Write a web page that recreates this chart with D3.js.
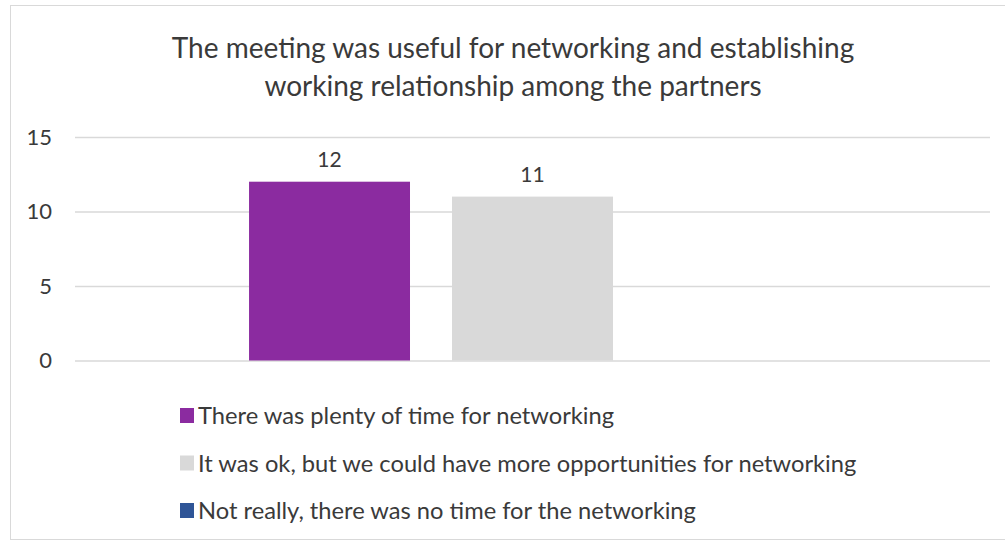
<!DOCTYPE html>
<html>
<head>
<meta charset="utf-8">
<script src="https://cdn.jsdelivr.net/npm/d3@7"></script>
<style>
  html, body { margin: 0; padding: 0; background: #fff; }
  svg { display: block; }
  text { font-family: Lato, "Open Sans", sans-serif; fill: #3a3a3a; }
</style>
</head>
<body>
<svg id="chart" width="1005" height="544"></svg>
<script>
// Survey responses for a single question, one bar per answer
const titleLines = [
  "The meeting was useful for networking and establishing",
  "working relationship among the partners"
];
const categories = [""];
const seriesNames = [
  "There was plenty of time for networking",
  "It was ok, but we could have more opportunities for networking",
  "Not really, there was no time for the networking"
];
const seriesValues = [12, 11, 0];
const seriesColors = ["#8b2ba0", "#d9d9d9", "#2f5597"];
const yTicks = [0, 5, 10, 15];

const svg = d3.select("#chart");
const W = 1005, H = 544;

// chart frame
svg.append("rect")
  .attr("x", 10.5).attr("y", 5.5)
  .attr("width", W).attr("height", 534)
  .attr("fill", "#fff").attr("stroke", "#d9d9d9").attr("stroke-width", 1);

const plot = { left: 75, right: 990, top: 137, bottom: 360.5 };

const y = d3.scaleLinear().domain([0, 15]).range([plot.bottom, plot.top]);
const x0 = d3.scaleBand().domain(categories)
  .range([plot.left, plot.right]).paddingOuter(0.307).paddingInner(0);
const x1 = d3.scaleBand().domain(seriesNames)
  .range([0, x0.bandwidth()]).paddingInner(0.207).paddingOuter(0);

// title
svg.append("g").selectAll("text").data(titleLines).join("text")
  .attr("x", 513)
  .attr("y", (d, i) => 58 + i * 38)
  .attr("text-anchor", "middle")
  .attr("font-size", 28)
  .text(d => d);

// gridlines + y tick labels
const yAxis = d3.axisLeft(y).tickValues(yTicks)
  .tickSize(-(plot.right - plot.left)).tickPadding(23);
const gy = svg.append("g")
  .attr("transform", `translate(${plot.left},0)`)
  .call(yAxis);
gy.select(".domain").remove();
gy.selectAll(".tick line").attr("stroke", "#d9d9d9").attr("stroke-width", 1.3);
gy.selectAll(".tick text")
  .attr("font-size", 22)
  .attr("font-family", "Lato, sans-serif")
  .attr("fill", "#3a3a3a");

// bars
const rows = seriesNames.map((s, i) => ({ name: s, value: seriesValues[i], color: seriesColors[i] }));
const grp = svg.append("g").selectAll("g").data(categories).join("g")
  .attr("transform", d => `translate(${x0(d)},0)`);

grp.selectAll("rect").data(rows).join("rect")
  .attr("x", d => x1(d.name))
  .attr("width", x1.bandwidth())
  .attr("y", d => y(d.value))
  .attr("height", d => y(0) - y(d.value))
  .attr("fill", d => d.color);

// value labels on the non-zero bars
grp.selectAll("text.val").data(rows.filter(d => d.value > 0)).join("text")
  .attr("class", "val")
  .attr("x", d => x1(d.name) + x1.bandwidth() / 2)
  .attr("y", d => y(d.value) - 15)
  .attr("text-anchor", "middle")
  .attr("font-size", 21)
  .text(d => d.value);

// legend
const leg = svg.append("g").attr("transform", "translate(180,0)")
  .selectAll("g").data(rows).join("g")
  .attr("transform", (d, i) => `translate(0,${415.5 + i * 47.5})`);
leg.append("rect")
  .attr("x", 0).attr("y", -7.5).attr("width", 14).attr("height", 15)
  .attr("fill", d => d.color);
leg.append("text")
  .attr("x", 18).attr("y", 8.5)
  .attr("font-size", 23.7)
  .text(d => d.name);
</script>
</body>
</html>
